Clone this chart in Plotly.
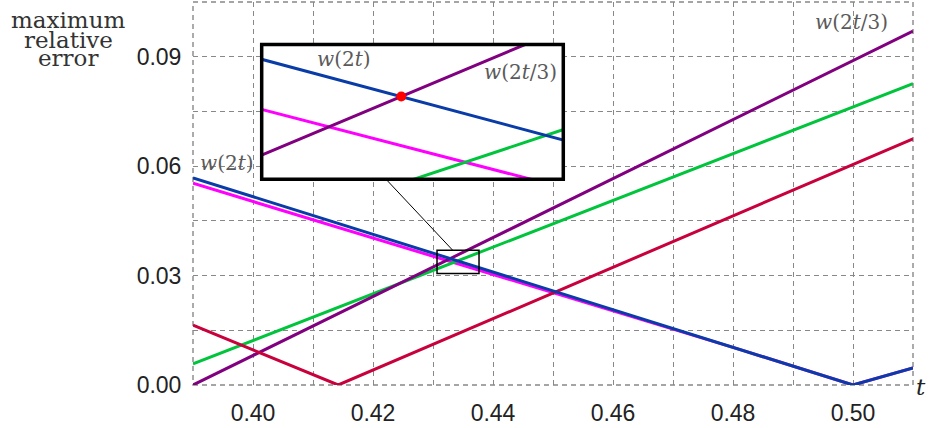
import plotly.graph_objects as go

# ---- data ----
blue_t = [0.39, 0.50, 0.51]
blue_err = [0.0568, 0.0, 0.0047]
magenta_t = [0.39, 0.4815, 0.50, 0.51]
magenta_err = [0.0553, 0.00955, 0.0, 0.0047]
purple_t = [0.39, 0.51]
purple_err = [0.0, 0.097]
green_t = [0.39, 0.51]
green_err = [0.0058, 0.0826]
crimson_t = [0.39, 0.4142, 0.51]
crimson_err = [0.0164, 0.0, 0.0675]
cross_t = [0.43288]
cross_err = [0.03466]

x_ticks = [0.40, 0.42, 0.44, 0.46, 0.48, 0.50]
x_tick_labels = ["0.40", "0.42", "0.44", "0.46", "0.48", "0.50"]
y_ticks = [0.00, 0.03, 0.06, 0.09]
y_tick_labels = ["0.00", "0.03", "0.06", "0.09"]

x_range = [0.39, 0.51]
y_range = [0.0, 0.105]
inset_x_range = [0.43170, 0.43425]
inset_y_range = [0.03331, 0.03551]
zoom_box_t = [0.43067, 0.43767]
zoom_box_err = [0.0306, 0.03695]

series = [
    (magenta_t, magenta_err, "#ff00ff"),
    (green_t, green_err, "#00c43c"),
    (purple_t, purple_err, "#800080"),
    (crimson_t, crimson_err, "#c8003c"),
    (blue_t, blue_err, "#0a3ca8"),
]

fig = go.Figure()
for xa, ya in (("x", "y"), ("x2", "y2")):
    for t, e, c in series:
        fig.add_trace(go.Scatter(x=t, y=e, mode="lines", xaxis=xa, yaxis=ya,
                                 line=dict(color=c, width=3), showlegend=False,
                                 hoverinfo="skip"))
fig.add_trace(go.Scatter(x=cross_t, y=cross_err, mode="markers", xaxis="x2", yaxis="y2",
                         marker=dict(color="#ff0000", size=10), showlegend=False))

grid_color = "#888888"
grid_dash = "5px,4px"
grid = dict(gridcolor=grid_color, gridwidth=1.4, griddash=grid_dash)
tickfont = dict(family="Liberation Sans", size=23, color="#222")

fig.update_layout(
    width=929, height=428,
    margin=dict(l=193, r=16, t=2, b=38),
    plot_bgcolor="white", paper_bgcolor="white",
    xaxis=dict(range=x_range, domain=[0, 1], tickvals=x_ticks, ticktext=x_tick_labels,
               showgrid=True, zeroline=False, showline=False,
               ticks="outside", ticklen=7, tickcolor="rgba(0,0,0,0)",
               tickfont=tickfont,
               minor=dict(dtick=0.01, tick0=0.39, showgrid=True, **grid), **grid),
    yaxis=dict(range=y_range, domain=[0, 1], tickvals=y_ticks, ticktext=y_tick_labels,
               showgrid=True, zeroline=False, showline=False,
               ticks="outside", ticklen=6, tickcolor="rgba(0,0,0,0)",
               tickfont=tickfont,
               minor=dict(dtick=0.015, tick0=0.0, showgrid=True, **grid), **grid),
    xaxis2=dict(range=inset_x_range, domain=[0.0954, 0.5143], anchor="y2",
                showgrid=False, zeroline=False, showticklabels=False, ticks=""),
    yaxis2=dict(range=inset_y_range, domain=[0.5369, 0.8892], anchor="x2",
                showgrid=False, zeroline=False, showticklabels=False, ticks=""),
)

# dashed frame around main plot (edges coincide with grid positions)
fig.add_shape(type="rect", xref="x domain", yref="y domain", x0=0, x1=1, y0=0, y1=1,
              line=dict(color=grid_color, width=1.4, dash=grid_dash), layer="below")
# inset border, zoom box and connector
fig.add_shape(type="rect", xref="paper", yref="paper", x0=0.0954, x1=0.5143,
              y0=0.5369, y1=0.8892, line=dict(color="black", width=3.5), layer="above")
fig.add_shape(type="rect", xref="x", yref="y", x0=zoom_box_t[0], x1=zoom_box_t[1],
              y0=zoom_box_err[0], y1=zoom_box_err[1], line=dict(color="black", width=1.5),
              layer="above")
fig.add_shape(type="line", xref="x", yref="y", x0=0.42223, y0=0.0563, x1=0.43328,
              y1=zoom_box_err[1], line=dict(color="black", width=1), layer="above")

serif = "DejaVu Serif"
for txt, py in (("maximum", 20), ("relative", 40), ("error", 59)):
    fig.add_annotation(text=txt, xref="paper", yref="paper", x=(68 - 193) / 720,
                       y=(390 - py) / 388, showarrow=False, xanchor="center", yanchor="middle",
                       font=dict(family=serif, size=23, color="#333"))

lab = dict(family=serif, size=20, color="#5a5a5a")
fig.add_annotation(text="<i>w</i>(2<i>t</i>)", x=0.39562, y=0.0608, xref="x", yref="y",
                   showarrow=False, font=lab, xanchor="center", yanchor="middle")
fig.add_annotation(text="<i>w</i>(2<i>t</i>/3)", x=0.4998, y=0.09946, xref="x", yref="y",
                   showarrow=False, font=lab, xanchor="center", yanchor="middle")
fig.add_annotation(text="<i>w</i>(2<i>t</i>)", x=(344 - 193) / 720, y=(390 - 60) / 388,
                   xref="paper", yref="paper", showarrow=False, font=lab,
                   xanchor="center", yanchor="middle")
fig.add_annotation(text="<i>w</i>(2<i>t</i>/3)", x=(520 - 193) / 720, y=(390 - 73) / 388,
                   xref="paper", yref="paper", showarrow=False, font=lab,
                   xanchor="center", yanchor="middle")
fig.add_annotation(text="<i>t</i>", x=(921 - 193) / 720, y=(390 - 392) / 388,
                   xref="paper", yref="paper", showarrow=False,
                   xanchor="center", yanchor="middle",
                   font=dict(family=serif, size=23, color="#222"))

fig.write_html("out.html", config={"displayModeBar": False},
               post_script="document.body.style.margin='0px';")
